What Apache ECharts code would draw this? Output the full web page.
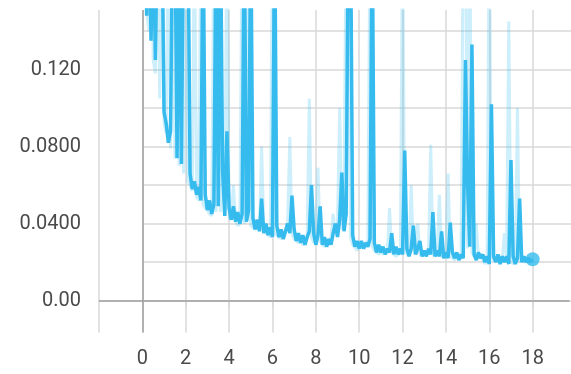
<!DOCTYPE html>
<html>
<head>
<meta charset="utf-8">
<script src="https://cdn.jsdelivr.net/npm/echarts@6/dist/echarts.min.js"></script>
<style>
html, body { margin: 0; padding: 0; background: #fff; }
#chart { width: 571px; height: 374px; }
</style>
</head>
<body>
<div id="chart"></div>
<script>
// step spacing of the logged points (x = step index * stepSize)
const stepSize = 0.1;

// smoothed loss (dark line), one value per 0.1 step from 0.1 to 18.0
const smoothLoss = [
	0.2, 0.148, 0.2, 0.135, 0.2, 0.125, 0.2, 0.2, 0.2, 0.098,
	0.092, 0.082, 0.088, 0.2, 0.2, 0.074, 0.2, 0.071, 0.2, 0.2,
	0.2, 0.066, 0.058, 0.062, 0.055, 0.059, 0.052, 0.2, 0.055, 0.047,
	0.052, 0.045, 0.050, 0.2, 0.049, 0.2, 0.068, 0.044, 0.088, 0.048,
	0.042, 0.049, 0.041, 0.046, 0.040, 0.045, 0.2, 0.041, 0.047, 0.2,
	0.043, 0.037, 0.042, 0.036, 0.053, 0.035, 0.040, 0.034, 0.038, 0.033,
	0.2, 0.039, 0.033, 0.037, 0.032, 0.036, 0.040, 0.035, 0.0545, 0.037,
	0.031, 0.035, 0.030, 0.034, 0.029, 0.033, 0.036, 0.060, 0.035, 0.029,
	0.034, 0.049, 0.029, 0.033, 0.028, 0.032, 0.029, 0.035, 0.040, 0.033,
	0.042, 0.0665, 0.036, 0.045, 0.2, 0.2, 0.034, 0.028, 0.031, 0.027,
	0.031, 0.027, 0.030, 0.028, 0.032, 0.2, 0.030, 0.025, 0.029, 0.025,
	0.028, 0.024, 0.027, 0.025, 0.035, 0.024, 0.028, 0.024, 0.027, 0.024,
	0.078, 0.027, 0.023, 0.027, 0.039, 0.024, 0.027, 0.031, 0.023, 0.026,
	0.023, 0.027, 0.024, 0.046, 0.023, 0.026, 0.023, 0.036, 0.022, 0.025,
	0.022, 0.0405, 0.025, 0.022, 0.025, 0.021, 0.024, 0.022, 0.125, 0.060,
	0.028, 0.133, 0.024, 0.021, 0.025, 0.022, 0.024, 0.020, 0.023, 0.019,
	0.102, 0.023, 0.020, 0.024, 0.019, 0.023, 0.020, 0.023, 0.019, 0.073,
	0.023, 0.019, 0.022, 0.053, 0.020, 0.023, 0.020, 0.022, 0.020, 0.0215
];

// raw loss (faint line), same steps
const rawLoss = [
	0.2, 0.15, 0.14, 0.2, 0.125, 0.118, 0.2, 0.105, 0.2, 0.092,
	0.087, 0.2, 0.079, 0.2, 0.074, 0.2, 0.070, 0.2, 0.066, 0.2,
	0.062, 0.060, 0.057, 0.2, 0.054, 0.052, 0.2, 0.050, 0.048, 0.047,
	0.045, 0.044, 0.2, 0.046, 0.2, 0.046, 0.080, 0.045, 0.2, 0.043,
	0.042, 0.060, 0.041, 0.039, 0.040, 0.2, 0.040, 0.043, 0.2, 0.039,
	0.038, 0.037, 0.039, 0.036, 0.080, 0.036, 0.035, 0.034, 0.033, 0.2,
	0.035, 0.034, 0.033, 0.032, 0.034, 0.036, 0.040, 0.085, 0.035, 0.032,
	0.031, 0.030, 0.031, 0.029, 0.030, 0.032, 0.105, 0.033, 0.030, 0.032,
	0.069, 0.031, 0.029, 0.028, 0.029, 0.030, 0.033, 0.045, 0.035, 0.040,
	0.100, 0.037, 0.050, 0.2, 0.2, 0.033, 0.029, 0.028, 0.026, 0.028,
	0.029, 0.027, 0.030, 0.031, 0.2, 0.028, 0.026, 0.025, 0.024, 0.025,
	0.024, 0.026, 0.025, 0.048, 0.025, 0.024, 0.023, 0.024, 0.025, 0.2,
	0.026, 0.024, 0.025, 0.060, 0.026, 0.024, 0.040, 0.024, 0.023, 0.025,
	0.024, 0.026, 0.081, 0.024, 0.023, 0.025, 0.055, 0.023, 0.022, 0.024,
	0.066, 0.023, 0.022, 0.021, 0.023, 0.022, 0.024, 0.2, 0.2, 0.027,
	0.2, 0.025, 0.023, 0.040, 0.022, 0.023, 0.021, 0.019, 0.022, 0.2,
	0.023, 0.021, 0.022, 0.020, 0.023, 0.021, 0.035, 0.022, 0.145, 0.021,
	0.019, 0.021, 0.100, 0.020, 0.021, 0.020, 0.021, 0.020, 0.021, 0.021
];

// y grid lines and y tick labels as printed on the chart
const yGridValues = [0, 0.02, 0.04, 0.06, 0.08, 0.10, 0.12, 0.14];
const yTickValues = [0, 0.04, 0.08, 0.12];
const yTickLabels = ['0.00', '0.0400', '0.0800', '0.120'];

const lineColor = '#36bbee';
const gridColor = '#d9d9d9';
const zeroColor = '#a0a0a0';
const textColor = '#4a4a4a';

function toPoints(values) {
	return values.map((v, i) => [Math.round((i + 1) * stepSize * 10) / 10, v]);
}

const smoothPoints = toPoints(smoothLoss);
const rawPoints = toPoints(rawLoss);
const lastPoint = smoothPoints[smoothPoints.length - 1];

let chart = echarts.init(document.getElementById('chart'), null, { renderer: 'canvas' });
chart.setOption({
	animation: false,
	grid: {
		left: 99,
		right: 1.5,
		top: 10,
		bottom: 41.5
	},
	xAxis: {
		type: 'value',
		min: -2,
		max: 19.7,
		interval: 2,
		axisLine: { show: true, lineStyle: { color: gridColor, width: 1.5 } },
		axisTick: { show: true, length: 7, lineStyle: { color: gridColor, width: 1.5 } },
		axisLabel: {
			show: true,
			showMinLabel: false,
			showMaxLabel: false,
			margin: 16,
			fontFamily: 'Roboto',
			fontSize: 20,
			color: textColor,
			formatter: function(v) {
				return v < 0 ? '' : String(v);
			}
		},
		splitLine: { show: true, showMaxLine: false, lineStyle: { color: gridColor, width: 1.5 } }
	},
	yAxis: {
		type: 'value',
		min: -0.0166,
		max: 0.151,
		offset: 8,
		axisLine: { show: false },
		// ticks drawn across the whole plot act as the horizontal grid lines
		axisTick: {
			show: true,
			inside: true,
			length: 479,
			customValues: yGridValues,
			lineStyle: { color: gridColor, width: 1.5 }
		},
		axisLabel: {
			margin: 10,
			fontFamily: 'Roboto',
			fontSize: 20,
			color: textColor,
			customValues: yTickValues,
			formatter: function(v) {
				for (let i = 0; i < yTickValues.length; i++) {
					if (Math.abs(v - yTickValues[i]) < 1e-9) return yTickLabels[i];
				}
				return '';
			}
		},
		splitLine: { show: false }
	},
	series: [{
			name: 'raw',
			type: 'line',
			data: rawPoints,
			showSymbol: false,
			clip: true,
			lineStyle: { color: lineColor, width: 3, opacity: 0.25 },
			markLine: {
				silent: true,
				symbol: ['none', 'none'],
				label: { show: false },
				lineStyle: { color: zeroColor, width: 1.5, type: 'solid' },
				data: [{ xAxis: 0 }, { yAxis: 0 }]
			}
		},
		{
			name: 'smoothed',
			type: 'line',
			data: smoothPoints,
			showSymbol: false,
			clip: true,
			lineStyle: { color: lineColor, width: 3.5 }
		},
		{
			name: 'last',
			type: 'scatter',
			data: [lastPoint],
			symbolSize: 14,
			itemStyle: { color: lineColor }
		}
	]
});
</script>
</body>
</html>
